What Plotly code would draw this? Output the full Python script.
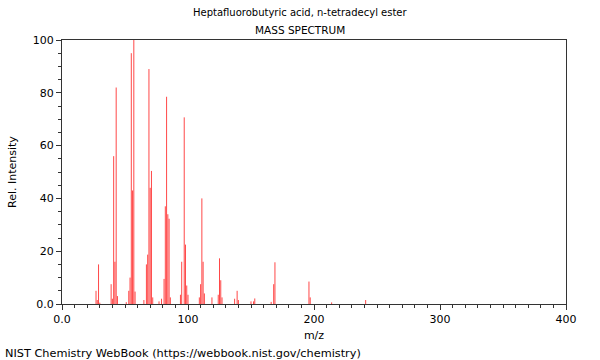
import plotly.graph_objects as go

# m/z values and relative intensities
mz = [27, 28, 29, 30, 39, 40, 41, 42, 43, 44, 51, 53, 54, 55, 56, 57, 58,
      65, 67, 68, 69, 70, 71, 72, 77, 79, 81, 82, 83, 84, 85, 86,
      94, 95, 97, 98, 99, 100, 109, 110, 111, 112, 113, 119,
      124, 125, 126, 127, 137, 139, 140, 150, 152, 153,
      166, 168, 169, 196, 197, 214, 241]
intensity = [5.0, 1.5, 15.0, 0.5, 7.5, 2.0, 56.0, 16.0, 82.0, 3.0, 0.7, 5.0, 10.0, 95.0, 43.0, 100.0, 4.7,
             1.5, 15.0, 18.7, 89.0, 44.0, 50.4, 2.5, 1.0, 2.0, 9.5, 37.0, 78.5, 34.0, 32.3, 2.5,
             3.5, 16.0, 70.7, 22.5, 7.0, 3.5, 2.5, 7.5, 40.0, 16.0, 4.0, 2.5,
             3.5, 17.3, 9.0, 2.5, 2.0, 5.0, 1.5, 1.0, 1.0, 2.1,
             0.8, 7.5, 15.8, 8.5, 2.5, 0.6, 1.5]

title_line1 = "Heptafluorobutyric acid, n-tetradecyl ester"
title_line2 = "MASS SPECTRUM"
x_tickvals = [0, 100, 200, 300, 400]
x_ticktext = ["0.0", "100", "200", "300", "400"]
y_tickvals = [0, 20, 40, 60, 80, 100]
y_ticktext = ["0.0", "20", "40", "60", "80", "100"]

xs, ys = [], []
for m, i in zip(mz, intensity):
    xs += [m, m, None]
    ys += [0, i, None]

fig = go.Figure()
fig.add_trace(go.Scatter(x=xs, y=ys, mode="lines",
                         line=dict(color="rgba(255,0,0,0.72)", width=1),
                         hoverinfo="skip", showlegend=False))

font = dict(family="DejaVu Sans", size=11, color="#000")
axis_common = dict(showline=True, linecolor="#333", linewidth=1, mirror=True,
                   showgrid=False, zeroline=False, ticks="outside", ticklen=5,
                   tickcolor="#333", automargin=False,
                   tickfont=dict(family="DejaVu Sans", size=11, color="#000"))

W, H = 600, 360
l, r, t, b = 62, 34, 40, 56
pw, ph = W - l - r, H - t - b

def to_paper(px, py):
    return (px - l) / pw, (H - b - py) / ph

annotations = []
for text, px, py, anchor, ang, size in [(title_line1, 300, 13, "center", 0, 10),
                                        (title_line2, 300, 30, "center", 0, 10.5),
                                        ("NIST Chemistry WebBook (https://webbook.nist.gov/chemistry)", 3, 353, "left", 0, 11.3),
                                        ("Rel. Intensity", 12, 172, "center", -90, 11)]:
    xp, yp = to_paper(px, py)
    annotations.append(dict(text=text, x=xp, y=yp, xref="paper", yref="paper",
                            showarrow=False, xanchor=anchor, yanchor="middle", textangle=ang,
                            font=dict(family="DejaVu Sans", size=size, color="#000")))

fig.update_layout(
    width=W, height=H,
    margin=dict(l=l, r=r, t=t, b=b),
    paper_bgcolor="white", plot_bgcolor="white",
    font=font,
    xaxis=dict(range=[0, 400], tickvals=x_tickvals, ticktext=x_ticktext,
               minor=dict(dtick=10, ticks="outside", ticklen=3, tickcolor="#333"),
               title=dict(text="m/z", font=dict(family="DejaVu Sans", size=11), standoff=6),
               **axis_common),
    yaxis=dict(range=[0, 100], tickvals=y_tickvals, ticktext=y_ticktext,
               minor=dict(dtick=5, ticks="outside", ticklen=3, tickcolor="#333"),
               **axis_common),
    annotations=annotations,
)

fig.write_html("out.html", config={"displayModeBar": False},
               post_script="document.body.style.margin='0';")
